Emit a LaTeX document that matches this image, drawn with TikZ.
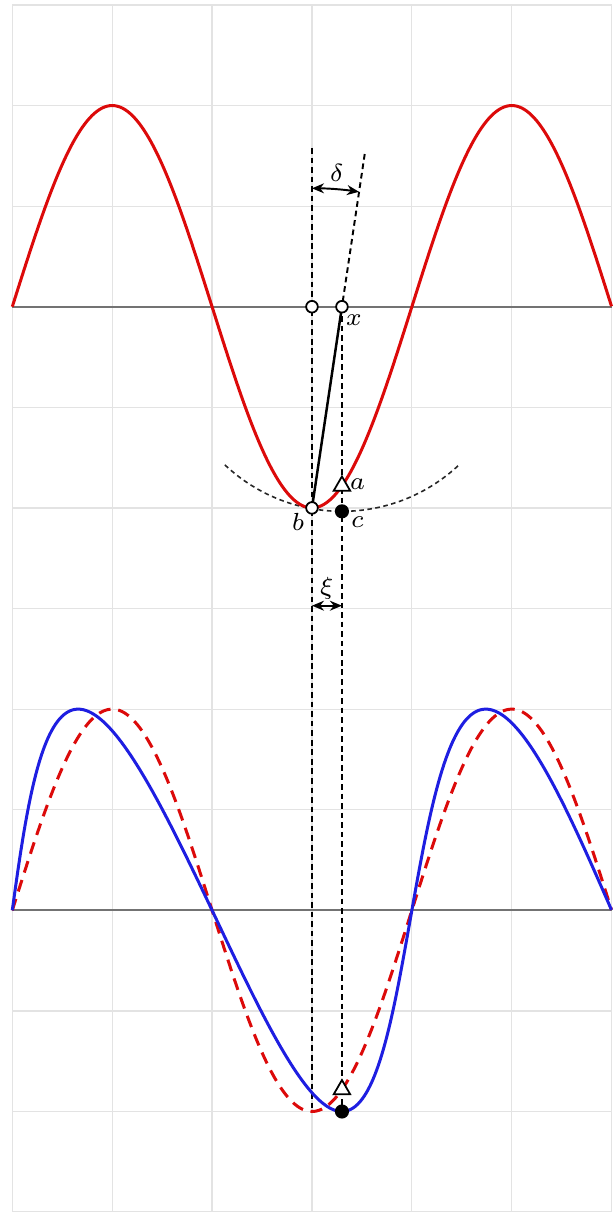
\documentclass[tikz,border=0pt]{standalone}
\usetikzlibrary{arrows.meta,shapes.geometric}
\definecolor{curvered}{RGB}{220,10,10}
\definecolor{curveblue}{RGB}{30,30,225}
\begin{document}
\begin{tikzpicture}[x={(0.993cm,0cm)}, y={(0cm,1cm)},
  gridline/.style={draw=black!11, line width=0.35pt},
  axisline/.style={draw=black!55, line width=0.6pt},
  guide/.style={draw=black, line width=0.55pt, dash pattern=on 1.6pt off 1.1pt},
  arcguide/.style={draw=black!85, line width=0.45pt, dash pattern=on 1.3pt off 1pt},
  redcurve/.style={draw=curvered, line width=0.85pt},
  reddash/.style={draw=curvered, line width=0.85pt, dash pattern=on 3.4pt off 2.2pt},
  bluecurve/.style={draw=curveblue, line width=0.85pt},
  opencirc/.style={circle, draw=black, fill=white, line width=0.5pt, inner sep=0pt, minimum size=3.3pt},
  dotmark/.style={circle, fill=black, inner sep=0pt, minimum size=4pt},
  trimark/.style={regular polygon, regular polygon sides=3, draw=black, fill=white, line width=0.5pt, inner sep=0pt, minimum size=5.4pt},
  lbl/.style={inner sep=0pt, font=\fontsize{7.2}{8}\selectfont}
]
\useasboundingbox (-0.1231,-8.999) rectangle (6.033,3.049);
% grid
\foreach \gx in {0,...,6} \draw[gridline] (\gx,-9) -- (\gx,3);
\foreach \gy in {-9,...,3} \draw[gridline] (0,\gy) -- (6,\gy);
% axes
\draw[axisline] (0,0) -- (6,0);
\draw[axisline] (0,-6) -- (6,-6);
% key points
\coordinate (topA) at (3,1.578);
\coordinate (topB) at (3.528,1.518);
\coordinate (pO) at (3,0);
\coordinate (pX) at (3.3,0);
\coordinate (pB) at (3,-2);
\coordinate (pC) at (3.3,-2.034);
\coordinate (pA) at (3.3,-1.782);
\coordinate (pB2) at (3,-8);
\coordinate (pA2) at (3.3,-7.782);
\coordinate (pC2) at (3.3,-8);
\coordinate (arcc) at (3.3,-0.315);
\coordinate (dL) at (3,1.177);
\coordinate (xiL) at (3,-2.972);
\coordinate (xiR) at (3.3,-2.972);
% guides
\draw[guide] (topA) -- (pB2);
\draw[guide] (topB) -- (pX);
\draw[guide] (pX) -- (pC2);
\draw[arcguide] (arcc) ++(227:1.719) arc[start angle=227, end angle=313, radius=1.719];
% curves
\draw[redcurve] plot[domain=0:6, samples=241, smooth] (\x,{2*sin(90*\x)});
\draw[reddash] plot[domain=0:6, samples=241, smooth] (\x,{-6+2*sin(90*\x)});
\draw[bluecurve] plot[variable=\t, domain=0:6, samples=241, smooth] ({\t-(0.3+0.02*(3-\t))*sin(90*\t)},{-6+2*sin(90*\t)});
% pendulum rod
\draw[black, line width=0.7pt] (pB) -- (pX);
% angle and displacement arrows
\draw[{Stealth[length=3.4pt,width=2.8pt]}-{Stealth[length=3.4pt,width=2.8pt]}, line width=0.55pt] (dL) arc[start angle=90, end angle=81.47, radius=3.177];
\draw[{Stealth[length=3.4pt,width=2.8pt]}-{Stealth[length=3.4pt,width=2.8pt]}, line width=0.55pt] (xiL) -- (xiR);
% markers
\node[opencirc] (o) at (pO) {};
\node[opencirc] (x) at (pX) {};
\node[opencirc] (b) at (pB) {};
\node[dotmark] (c) at (pC) {};
\node[trimark] (a) at (pA) {};
\node[trimark] (a2) at (pA2) {};
\node[dotmark] (c2) at (pC2) {};
% labels
\node[lbl] (lx) at (3.42,-0.132) {$x$};
\node[lbl] (la) at (3.455,-1.762) {$a$};
\node[lbl] (lb) at (2.86,-2.137) {$b$};
\node[lbl] (lc) at (3.455,-2.137) {$c$};
\node[lbl] (lxi) at (3.147,-2.80) {$\xi$};
\node[lbl] (ldelta) at (3.247,1.33) {$\delta$};
\end{tikzpicture}
\end{document}
